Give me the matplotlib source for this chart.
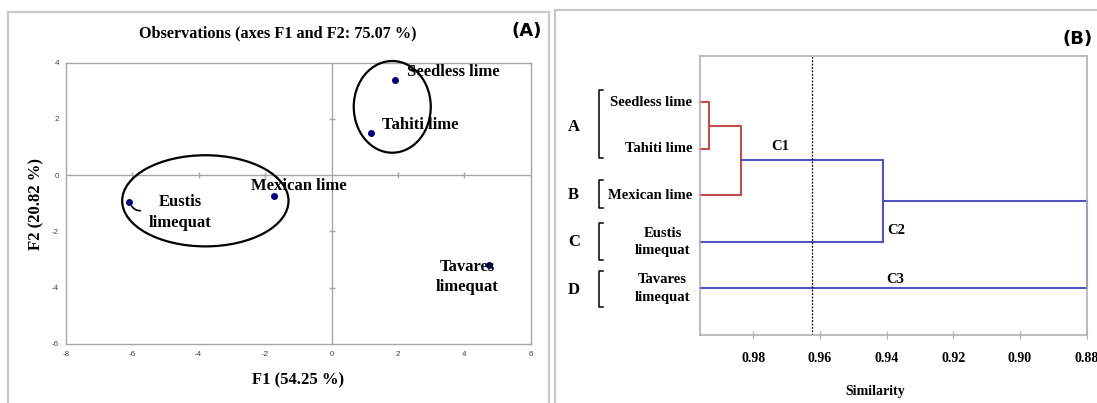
import matplotlib
matplotlib.use("Agg")
import matplotlib.pyplot as plt
from matplotlib.patches import Ellipse, Rectangle
import numpy as np

plt.rcParams["axes.unicode_minus"] = False

# ---------------- data ----------------
# Panel A: PCA observations
obs_names = ["Seedless lime", "Tahiti lime", "Mexican lime", "Eustis\nlimequat", "Tavares\nlimequat"]
obs_f1 = [1.92, 1.19, -1.72, -6.11, 4.75]
obs_f2 = [3.39, 1.50, -0.74, -0.96, -3.19]
pca_title = "Observations (axes F1 and F2: 75.07 %)"
f1_label = "F1 (54.25 %)"
f2_label = "F2 (20.82 %)"
a_xticks = [-8, -6, -4, -2, 0, 2, 4, 6]
a_yticks = [-6, -4, -2, 0, 2, 4]

# Panel B: dendrogram
leaf_names = ["Seedless lime", "Tahiti lime", "Mexican lime", "Eustis\nlimequat", "Tavares\nlimequat"]
group_letters = ["A", "B", "C", "D"]
# merges: (left child, right child, similarity); children index leaves 0..4, clusters 5..
merges = [(0, 1, 0.9932), (5, 2, 0.9837), (6, 3, 0.941), (7, 4, 0.88)]
merge_colors = ["#c0504d", "#c0504d", "#5252c0", "#5252c0"]
cut_level = 0.9623
b_xticks = [0.98, 0.96, 0.94, 0.92, 0.90, 0.88]
b_xlim = (0.996, 0.88)

SERIF = ["Liberation Serif", "DejaVu Serif"]
W, H = 1097, 403
fig = plt.figure(figsize=(W / 100, H / 100), dpi=100)

def fx(px):
    return px / W

def fy(py):
    return 1 - py / H

# panel frames
fig.patches.append(Rectangle((fx(7.7), fy(420)), fx(549.3 - 7.7), (420 - 11.7) / H,
                             transform=fig.transFigure, fill=False, ec="#c8c8c8", lw=1.6))
fig.patches.append(Rectangle((fx(555.3), fy(420)), fx(1150 - 555.3), (420 - 10) / H,
                             transform=fig.transFigure, fill=False, ec="#c8c8c8", lw=1.6))

# ---------------- Panel A ----------------
axA = fig.add_axes([fx(65.9), fy(344), fx(530.7 - 65.9), (344 - 62.7) / H])
axA.set_xlim(-8, 6)
axA.set_ylim(-6, 4)
for s in axA.spines.values():
    s.set_color("#a6a6a6")
    s.set_linewidth(1.0)
axA.set_xticks(a_xticks)
axA.set_yticks(a_yticks)
axA.tick_params(length=0, labelsize=5.8, labelcolor="#404040", pad=5)
for lab in axA.get_xticklabels() + axA.get_yticklabels():
    lab.set_family(["Liberation Sans", "DejaVu Sans"])
axA.axhline(0, color="#a6a6a6", lw=1.0, zorder=1)
axA.axvline(0, color="#a6a6a6", lw=1.0, zorder=1)
xt = [t for t in a_xticks[1:-1] if t != 0]
yt = [t for t in a_yticks[1:-1] if t != 0]
axA.plot(xt, [0] * len(xt), ls="none", marker="|", ms=4, color="#a6a6a6", mew=1.0)
axA.plot([0] * len(yt), yt, ls="none", marker="_", ms=4, color="#a6a6a6", mew=1.0)

axA.plot(obs_f1, obs_f2, ls="none", marker="o", ms=4, color="#00007f", zorder=3)

lab_kw = dict(fontsize=12, fontweight="bold", family=SERIF, color="black")
axA.text(2.27, 3.67, obs_names[0], ha="left", va="center", **lab_kw)
axA.text(1.51, 1.79, obs_names[1], ha="left", va="center", **lab_kw)
axA.text(-0.97, -0.40, obs_names[2], ha="center", va="center", **lab_kw)
axA.text(-4.56, -1.32, obs_names[3], ha="center", va="center", linespacing=1.4, **lab_kw)
axA.text(4.09, -3.62, obs_names[4], ha="center", va="center", linespacing=1.4, **lab_kw)
axA.annotate("", xy=(-5.67, -1.25), xytext=(obs_f1[3] + 0.05, obs_f2[3] - 0.05),
             arrowprops=dict(arrowstyle="-", color="black", lw=1.2,
                             connectionstyle="arc3,rad=0.4"))

axA.add_patch(Ellipse((1.83, 2.43), 2.32, 3.26, fill=False, ec="black", lw=1.6,
                      zorder=4, clip_on=False))
axA.add_patch(Ellipse((-3.80, -0.91), 5.01, 3.24, fill=False, ec="black", lw=1.6,
                      zorder=4, clip_on=False))

fig.text(fx(278), fy(33), pca_title, ha="center", va="center", fontsize=11.7,
         fontweight="bold", family=SERIF)
fig.text(fx(527), fy(31), "(A)", ha="center", va="center", fontsize=13,
         fontweight="bold", family=["DejaVu Sans"])
fig.text(fx(298.5), fy(380), f1_label, ha="center", va="center", fontsize=12,
         fontweight="bold", family=SERIF)
fig.text(fx(36.8), fy(204), f2_label, ha="center", va="center", fontsize=12,
         fontweight="bold", family=SERIF, rotation=90)

# ---------------- Panel B ----------------
axB = fig.add_axes([fx(700), fy(335), fx(1086.5 - 700), (335 - 55.7) / H])
axB.set_xlim(*b_xlim)
axB.set_ylim(6, 0)
for s in axB.spines.values():
    s.set_color("#b0b0b0")
    s.set_linewidth(1.2)
axB.set_yticks([])
axB.set_xticks(b_xticks)
axB.set_xticklabels([f"{t:.2f}" for t in b_xticks])
axB.tick_params(axis="x", direction="inout", length=6, color="#b0b0b0", pad=9,
                labelsize=10)
for lab in axB.get_xticklabels():
    lab.set_family(SERIF)
    lab.set_fontweight("bold")

# dendrogram
n = len(leaf_names)
node_y = {i: i + 1 for i in range(n)}
node_x = {i: b_xlim[0] for i in range(n)}
for k, (a, b, h) in enumerate(merges):
    c = merge_colors[k]
    ya, yb = node_y[a], node_y[b]
    axB.plot([node_x[a], h, h, node_x[b]], [ya, ya, yb, yb], color=c, lw=1.5,
             solid_joinstyle="miter", clip_on=False)
    node_y[n + k] = (ya + yb) / 2
    node_x[n + k] = h

axB.axvline(cut_level, color="black", ls=(0, (1.5, 1.2)), lw=0.9)

leaf_kw = dict(fontsize=10.5, fontweight="bold", family=SERIF, va="center")
trans_lbl = axB.get_yaxis_transform()
AXW = 1086.5 - 700
for i, name in enumerate(leaf_names):
    if "\n" in name:
        axB.text(-(700 - 662.7) / AXW, i + 1, name, transform=trans_lbl, ha="center",
                 linespacing=1.45, **leaf_kw)
    else:
        axB.text(-(700 - 692.5) / AXW, i + 1, name, transform=trans_lbl, ha="right",
                 **leaf_kw)

# brackets and group letters
bracket_spans = [(0.74, 2.20), (2.68, 3.28), (3.60, 4.38), (4.62, 5.39)]
letter_y = [1.53, 3.0, 4.01, 5.03]
bx0 = -(700 - 599) / AXW
bx1 = -(700 - 603) / AXW
for (y0, y1), L, ly in zip(bracket_spans, group_letters, letter_y):
    axB.plot([bx1, bx0, bx0, bx1], [y0, y0, y1, y1], color="black", lw=1.1,
             transform=trans_lbl, clip_on=False)
    axB.text(-(700 - 573.7) / AXW, ly, L, transform=trans_lbl, ha="center",
             va="center", fontsize=12, fontweight="bold", family=SERIF)

clus_kw = dict(fontsize=10.5, fontweight="bold", family=SERIF, va="center")
axB.text(0.972, (146.7 - 55.7) / 46.5, "C1", ha="center", **clus_kw)
axB.text(0.9398, (230.7 - 55.7) / 46.5, "C2", ha="left", **clus_kw)
axB.text(0.9373, (279 - 55.7) / 46.5, "C3", ha="center", **clus_kw)

fig.text(fx(875), fy(391.7), "Similarity", ha="center", va="center", fontsize=10,
         fontweight="bold", family=SERIF)
fig.text(fx(1078), fy(39.5), "(B)", ha="center", va="center", fontsize=13,
         fontweight="bold", family=["DejaVu Sans"])

fig.savefig("out.png", dpi=100)
